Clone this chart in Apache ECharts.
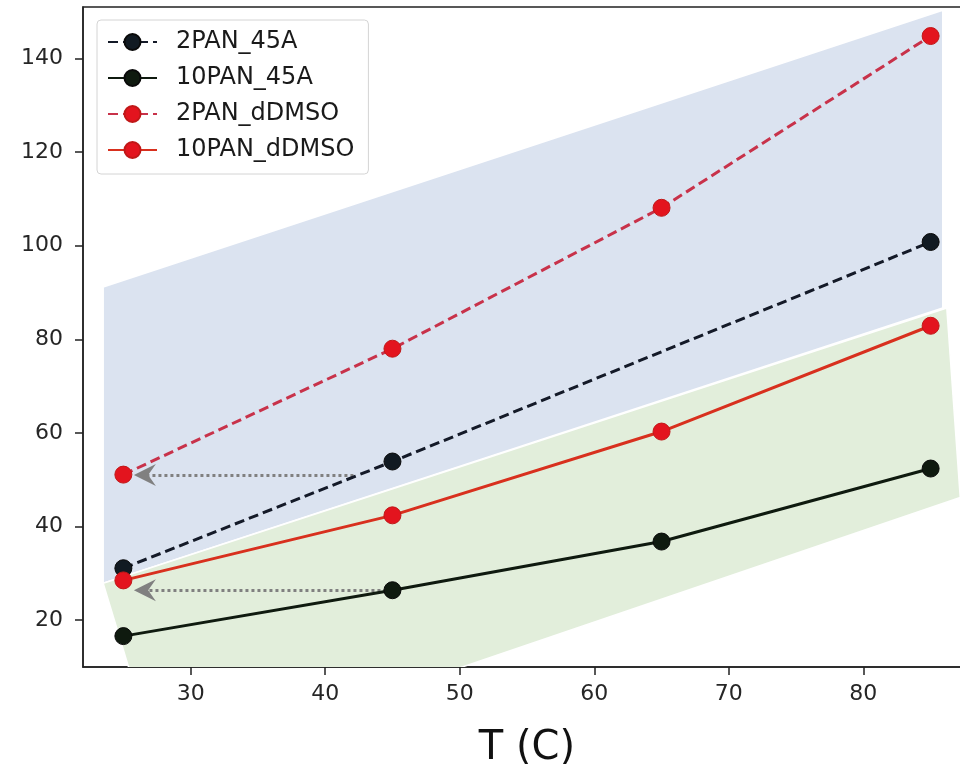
<!DOCTYPE html>
<html>
<head>
<meta charset="utf-8">
<script src="https://cdn.jsdelivr.net/npm/echarts@6/dist/echarts.min.js"></script>
<style>html,body{margin:0;padding:0;background:#fff;overflow:hidden}#c{width:960px;height:764px}</style>
</head>
<body>
<div id="c"></div>
<script>
// ---- data ----
const xTicks = [30, 40, 50, 60, 70, 80];
const yTicks = [20, 40, 60, 80, 100, 120, 140];
const temps = [25, 45, 65, 85];
const temps2PAN45A = [25, 45, 85];
const v2PAN_45A = [31.1, 53.9, 100.8];
const v10PAN_45A = [16.6, 26.4, 36.8, 52.4];
const v2PAN_dDMSO = [51.1, 78.0, 108.1, 144.8];
const v10PAN_dDMSO = [28.5, 42.4, 60.3, 82.9];
const seriesNames = ['2PAN_45A', '10PAN_45A', '2PAN_dDMSO', '10PAN_dDMSO'];
// shaded regions (data coordinates)
const blueRegion = [[23.5, 91.2], [85.9, 150.3], [85.9, 86.7], [23.5, 27.9]];
const greenRegion = [[23.5, 27.9], [86.2, 86.7], [87.2, 46.2], [27.7, -12]];
// dotted arrows: [from, to]
const arrowUpper = [[42.1, 51.0], [26.6, 51.0]];
const arrowLower = [[45.0, 26.4], [26.6, 26.4]];

const zip = (xs, ys) => xs.map((x, i) => [x, ys[i]]);
const regions = [blueRegion, greenRegion];
const regionColors = ['#dbe3f0', '#e2eedb'];

const chart = echarts.init(document.getElementById('c'), null, {renderer: 'canvas'});
const font = 'DejaVu Sans';
const markerRed = {color: '#e3141e', borderColor: '#c01818', borderWidth: 1};
const markerBlack = {color: '#111a22', borderColor: '#0a0a0a', borderWidth: 1};

chart.setOption({
  animation: false,
  textStyle: {fontFamily: font},
  grid: {left: 83, top: 7, width: 888, bottom: 97, outerBoundsMode: 'none', containLabel: false,
    show: true, borderColor: '#222', borderWidth: 1.5, backgroundColor: 'transparent'},
  legend: {
    data: seriesNames,
    left: 97, top: 20, orient: 'vertical',
    padding: [10, 14, 12, 10],
    itemGap: 12, itemWidth: 49, itemHeight: 20,
    backgroundColor: 'rgba(255,255,255,0.85)', borderColor: '#d4d4d4', borderWidth: 1, borderRadius: 4,
    textStyle: {fontFamily: font, fontSize: 24, color: '#1a1a1a', padding: [0, 0, 0, 14]}
  },
  xAxis: {
    type: 'value', min: 22, max: 88,
    name: 'T (C)', nameLocation: 'middle', nameGap: 62,
    nameTextStyle: {fontFamily: font, fontSize: 40, color: '#111'},
    axisLine: {show: true, lineStyle: {color: '#222', width: 1.5}},
    axisTick: {show: true, length: 8, lineStyle: {color: '#222', width: 1.5}, customValues: xTicks},
    axisLabel: {fontSize: 22, color: '#262626', margin: 16, customValues: xTicks},
    splitLine: {show: false}
  },
  yAxis: {
    type: 'value', min: 10, max: 151,
    axisLine: {show: true, lineStyle: {color: '#222', width: 1.5}},
    axisTick: {show: true, length: 8, lineStyle: {color: '#222', width: 1.5}, customValues: yTicks},
    axisLabel: {fontSize: 22, color: '#262626', margin: 20, customValues: yTicks},
    splitLine: {show: false}
  },
  series: [
    {
      type: 'custom', name: 'regions', clip: true, z: 1, silent: true,
      data: regions.map((r, i) => [i]),
      renderItem: function (params, api) {
        const idx = api.value(0);
        const pts = regions[idx].map(p => api.coord(p));
        return {type: 'polygon', shape: {points: pts},
          style: {fill: regionColors[idx], stroke: '#ffffff', lineWidth: 1.5}};
      }
    },
    {
      name: '2PAN_45A', type: 'line', z: 5, data: zip(temps2PAN45A, v2PAN_45A),
      symbol: 'circle', symbolSize: 17,
      lineStyle: {color: '#141a28', width: 3, type: [10, 5]}, itemStyle: markerBlack
    },
    {
      name: '10PAN_45A', type: 'line', z: 5, data: zip(temps, v10PAN_45A),
      symbol: 'circle', symbolSize: 17,
      lineStyle: {color: '#0f1a0f', width: 3}, itemStyle: {color: '#0f1a0f', borderColor: '#0a0a0a', borderWidth: 1}
    },
    {
      name: '2PAN_dDMSO', type: 'line', z: 5, data: zip(temps, v2PAN_dDMSO),
      symbol: 'circle', symbolSize: 17,
      lineStyle: {color: '#c8324a', width: 3, type: [10, 5]}, itemStyle: markerRed
    },
    {
      name: '10PAN_dDMSO', type: 'line', z: 5, data: zip(temps, v10PAN_dDMSO),
      symbol: 'circle', symbolSize: 17,
      lineStyle: {color: '#d8301e', width: 3}, itemStyle: markerRed
    },
    {
      name: 'arrows', type: 'line', z: 6, data: [], silent: true,
      markLine: {
        silent: true, animation: false,
        symbol: ['none', 'path://M5,0 L10,10 L5,6.5 L0,10 Z'],
        symbolSize: [22, 22],
        label: {show: false},
        lineStyle: {color: '#808080', width: 3.2, type: [3, 3]},
        data: [
          [{coord: arrowUpper[0]}, {coord: arrowUpper[1]}],
          [{coord: arrowLower[0]}, {coord: arrowLower[1]}]
        ]
      }
    }
  ]
});
</script>
</body>
</html>
